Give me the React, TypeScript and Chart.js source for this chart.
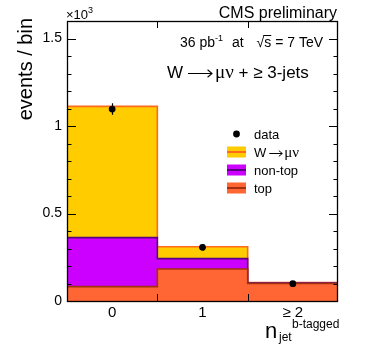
import React, { useEffect, useRef } from 'react';
import { Chart, registerables } from 'chart.js';

Chart.register(...registerables);

const categories = ['0', '1', '≥ 2'];
const binEdges = [-0.5, 0.5, 1.5, 2.5];
const topValues = [82, 183, 100];
const nonTopValues = [280, 59, 3];
const wjetsValues = [750, 68, 2];
const dataValues = [1097, 307, 99];
const dataErrors = [33, 18, 10];
const yTickValues = [0, 500, 1000, 1500];
const yMinorStep = 100;
const yMax = 1600;

const FONT = '"Liberation Sans", Arial, Helvetica, sans-serif';
const SERIF = '"Liberation Serif", "DejaVu Serif", serif';

const colors = {
  wjetsFill: '#FFCC00',
  wjetsLine: '#FF6A1A',
  nonTopFill: '#CC00FF',
  nonTopLine: '#5A0080',
  topFill: '#FF6633',
  topLine: '#A0300F',
};

function cumulative(...layers: number[][]) {
  return layers[0].map((_, i) => layers.reduce((s, l) => s + l[i], 0));
}

function stepPoints(vals: number[]) {
  const pts = vals.map((v, i) => ({ x: binEdges[i], y: v }));
  pts.push({ x: binEdges[vals.length], y: vals[vals.length - 1] });
  return pts;
}

type Part = { t?: string; size: number; dy?: number; over?: boolean; font?: string; arrow?: number; gap?: number };

function partWidth(ctx: CanvasRenderingContext2D, p: Part) {
  if (p.arrow) return p.arrow;
  if (p.gap) return p.gap;
  ctx.font = `${p.size}px ${p.font || FONT}`;
  return ctx.measureText(p.t || '').width;
}

function drawRich(ctx: CanvasRenderingContext2D, parts: Part[], x: number, y: number, align: 'left' | 'right') {
  const widths = parts.map((p) => partWidth(ctx, p));
  const total = widths.reduce((a, b) => a + b, 0);
  let cx = align === 'right' ? x - total : x;
  parts.forEach((p, i) => {
    const dy = p.dy || 0;
    if (p.arrow) {
      const ay = Math.round(y + dy - p.size * 0.32) + 0.5;
      const x0 = cx + 1;
      const x1 = cx + p.arrow - 1;
      const hs = p.size * 0.22;
      ctx.save();
      ctx.lineWidth = Math.max(1, p.size / 16);
      ctx.strokeStyle = ctx.fillStyle as string;
      ctx.beginPath();
      ctx.moveTo(x0, ay);
      ctx.lineTo(x1, ay);
      ctx.moveTo(x1 - hs * 1.2, ay - hs);
      ctx.lineTo(x1, ay);
      ctx.lineTo(x1 - hs * 1.2, ay + hs);
      ctx.stroke();
      ctx.restore();
    } else if (p.t) {
      ctx.font = `${p.size}px ${p.font || FONT}`;
      ctx.fillText(p.t, cx, y + dy);
      if (p.over) {
        ctx.save();
        ctx.lineWidth = 1;
        ctx.strokeStyle = ctx.fillStyle as string;
        ctx.beginPath();
        const oy = Math.round(y + dy - p.size * 0.86) + 0.5;
        ctx.moveTo(cx - 1, oy);
        ctx.lineTo(cx + widths[i], oy);
        ctx.stroke();
        ctx.restore();
      }
    }
    cx += widths[i];
  });
}

const decorPlugin = {
  id: 'decor',
  afterDatasetsDraw(chart: any) {
    const { ctx, scales } = chart;
    const x = scales.x;
    const y = scales.y;
    ctx.save();
    ctx.strokeStyle = '#000';
    ctx.lineWidth = 1.2;
    dataValues.forEach((v, i) => {
      const px = Math.round(x.getPixelForValue(i)) + 0.5;
      ctx.beginPath();
      ctx.moveTo(px, y.getPixelForValue(v - dataErrors[i]));
      ctx.lineTo(px, y.getPixelForValue(v + dataErrors[i]));
      ctx.stroke();
    });
    ctx.restore();
  },
  afterDraw(chart: any) {
    const { ctx, chartArea, scales } = chart;
    const x = scales.x;
    const y = scales.y;
    const { left, right, top, bottom } = chartArea;
    ctx.save();
    ctx.strokeStyle = '#000';
    ctx.fillStyle = '#000';
    ctx.lineWidth = 1;

    // ticks (y: major + minor, both sides)
    ctx.beginPath();
    for (let v = 0; v <= yMax; v += yMinorStep) {
      const py = Math.round(y.getPixelForValue(v)) + 0.5;
      const len = v % 500 === 0 ? 9 : 4.5;
      ctx.moveTo(left, py);
      ctx.lineTo(left + len, py);
      ctx.moveTo(right, py);
      ctx.lineTo(right - len, py);
    }
    // x ticks at bin edges
    binEdges.slice(1, -1).forEach((e) => {
      const px = Math.round(x.getPixelForValue(e)) + 0.5;
      ctx.moveTo(px, top);
      ctx.lineTo(px, top + 7);
      ctx.moveTo(px, bottom);
      ctx.lineTo(px, bottom - 7);
    });
    ctx.stroke();

    // frame
    ctx.lineWidth = 1.3;
    ctx.strokeRect(Math.round(left) + 0.5, Math.round(top) + 0.5, Math.round(right - left) - 1, Math.round(bottom - top));

    ctx.textBaseline = 'alphabetic';
    ctx.textAlign = 'left';

    // y title
    ctx.save();
    ctx.translate(32, 18);
    ctx.rotate(-Math.PI / 2);
    ctx.textAlign = 'right';
    ctx.font = `20px ${FONT}`;
    ctx.fillText('events / bin', 0, 0);
    ctx.restore();

    // x10^3
    drawRich(ctx, [
      { t: '×10', size: 13 },
      { t: '3', size: 9, dy: -6 },
    ], 66, 19, 'left');

    // CMS preliminary
    ctx.textAlign = 'right';
    ctx.font = `16px ${FONT}`;
    ctx.fillText('CMS preliminary', 337, 18);
    ctx.textAlign = 'left';

    // lumi text (left part and right part)
    drawRich(ctx, [
      { t: '36 pb', size: 14 },
      { t: '-1', size: 9, dy: -6 },
      { gap: 9, size: 14 },
      { t: 'at', size: 14 },
    ], 180, 47, 'left');
    drawRich(ctx, [
      { t: '√', size: 14 },
      { t: 's', size: 14, over: true },
      { t: ' = 7 TeV', size: 14 },
    ], 323, 47, 'right');

    // channel text
    drawRich(ctx, [
      { t: 'W', size: 17 },
      { gap: 4, size: 17 },
      { arrow: 26, size: 17 },
      { gap: 2, size: 17 },
      { t: 'μν', size: 19, font: SERIF },
      { t: ' + ', size: 17 },
      { t: '≥', size: 17 },
      { t: ' 3-jets', size: 17 },
    ], 167, 78, 'left');

    // legend
    const rows = [134, 152, 170, 188];
    const lx0 = 227;
    const lw = 19;
    const lh = 11;
    ctx.beginPath();
    ctx.arc(236.5, rows[0], 3.4, 0, Math.PI * 2);
    ctx.fill();
    const entries = [
      { fill: colors.wjetsFill, line: colors.wjetsLine },
      { fill: colors.nonTopFill, line: colors.nonTopLine },
      { fill: colors.topFill, line: colors.topLine },
    ];
    entries.forEach((e, i) => {
      const ry = rows[i + 1];
      ctx.fillStyle = e.fill;
      ctx.fillRect(lx0, ry - lh / 2, lw, lh);
      ctx.strokeStyle = e.line;
      ctx.lineWidth = 2;
      ctx.beginPath();
      ctx.moveTo(lx0, ry);
      ctx.lineTo(lx0 + lw, ry);
      ctx.stroke();
    });
    ctx.fillStyle = '#000';
    ctx.strokeStyle = '#000';
    const lx = 254;
    ctx.font = `13px ${FONT}`;
    ctx.fillText('data', lx, rows[0] + 5);
    drawRich(ctx, [
      { t: 'W', size: 13 },
      { gap: 2, size: 13 },
      { arrow: 15, size: 13 },
      { gap: 1, size: 13 },
      { t: 'μν', size: 15, font: SERIF },
    ], lx, rows[1] + 5, 'left');
    ctx.font = `13px ${FONT}`;
    ctx.fillText('non-top', lx, rows[2] + 5);
    ctx.fillText('top', lx, rows[3] + 5);

    // x title
    ctx.font = `22px ${FONT}`;
    ctx.fillText('n', 265, 338);
    ctx.font = `12px ${FONT}`;
    ctx.fillText('jet', 279, 341);
    ctx.font = `12px ${FONT}`;
    ctx.fillText('b-tagged', 292, 328);

    ctx.restore();
  },
};

export default function App() {
  const canvasRef = useRef<HTMLCanvasElement | null>(null);

  useEffect(() => {
    document.body.style.margin = '0';
    const canvas = canvasRef.current;
    if (!canvas) return;

    const topCum = cumulative(topValues);
    const nonTopCum = cumulative(topValues, nonTopValues);
    const totalCum = cumulative(topValues, nonTopValues, wjetsValues);

    const stepDs = (label: string, vals: number[], fill: string, line: string) => ({
      label,
      data: stepPoints(vals),
      stepped: 'before' as const,
      fill: 'origin',
      backgroundColor: fill,
      borderColor: line,
      borderWidth: 1.6,
      pointRadius: 0,
      pointHoverRadius: 0,
    });

    const chart = new Chart(canvas, {
      type: 'line',
      data: {
        datasets: [
          {
            label: 'data',
            data: dataValues.map((v, i) => ({ x: i, y: v })),
            showLine: false,
            pointRadius: 3.4,
            pointBackgroundColor: '#000',
            pointBorderColor: '#000',
            pointBorderWidth: 0,
            fill: false,
          } as any,
          stepDs('top', topCum, colors.topFill, colors.topLine),
          stepDs('non-top', nonTopCum, colors.nonTopFill, colors.nonTopLine),
          stepDs('W → μν', totalCum, colors.wjetsFill, colors.wjetsLine),
        ],
      },
      options: {
        animation: false,
        responsive: false,
        devicePixelRatio: 1,
        events: [],
        layout: { padding: { top: 21, right: 33, left: 0, bottom: 0 } },
        plugins: {
          legend: { display: false },
          tooltip: { enabled: false },
          title: { display: false },
        },
        scales: {
          x: {
            type: 'linear',
            min: -0.5,
            max: 2.5,
            grid: { display: false, drawTicks: false },
            border: { display: false },
            afterBuildTicks: (scale: any) => {
              scale.ticks = categories.map((_, i) => ({ value: i }));
            },
            afterFit: (scale: any) => {
              scale.height = 57;
            },
            ticks: {
              autoSkip: false,
              maxRotation: 0,
              padding: 3,
              color: '#000',
              font: { family: FONT, size: 15 },
              callback: (v: any) => categories[Number(v)] ?? '',
            },
          },
          y: {
            type: 'linear',
            min: 0,
            max: yMax,
            grid: { display: false, drawTicks: false },
            border: { display: false },
            afterBuildTicks: (scale: any) => {
              scale.ticks = yTickValues.map((v) => ({ value: v }));
            },
            afterFit: (scale: any) => {
              scale.width = 67;
            },
            ticks: {
              padding: 5,
              color: '#000',
              font: { family: FONT, size: 14 },
              callback: (v: any) => String(Number(v) / 1000),
            },
          },
        },
      },
      plugins: [decorPlugin],
    });

    return () => chart.destroy();
  }, []);

  return (
    <div style={{ width: 371, height: 358 }}>
      <canvas ref={canvasRef} width={371} height={358} style={{ display: 'block' }} />
    </div>
  );
}
